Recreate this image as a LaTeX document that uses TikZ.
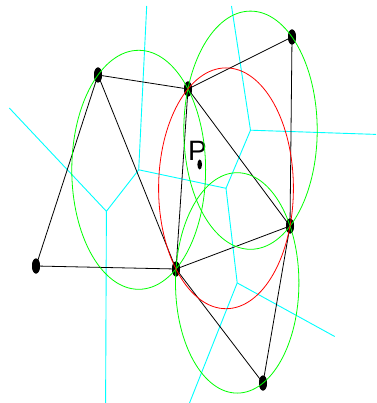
\documentclass[tikz,border=0pt]{standalone}
\usepackage{fontspec}
\setsansfont{Liberation Sans}
\usepackage{tikz}
\usetikzlibrary{shapes.geometric}
\definecolor{vorcyan}{RGB}{0,255,255}
\definecolor{circgreen}{RGB}{0,255,0}
\definecolor{circred}{RGB}{255,0,0}

\begin{document}
\begin{tikzpicture}[
  x=1pt, y=-1pt,
  site/.style={ellipse, fill=black, inner sep=0pt,
               minimum width=8pt, minimum height=15pt},
  query/.style={ellipse, fill=black, inner sep=0pt,
                minimum width=4.6pt, minimum height=10pt},
  vor/.style={draw=vorcyan, line width=0.9pt},
  tri/.style={draw=black, line width=0.8pt},
  circ/.style={draw=circgreen, line width=0.8pt},
  bad/.style={draw=circred, line width=0.8pt},
]
\useasboundingbox[fill=white] (0,0) rectangle (376,403);
% --- Voronoi vertices and ray ends ---
\coordinate (vabe) at (138.7,169.8);
\coordinate (vade) at (106.4,211.3);
\coordinate (vbcf) at (250.5,130.2);
\coordinate (vbef) at (226.0,188.3);
\coordinate (vefg) at (237.2,282.9);
\coordinate (rab) at (146.7,6);
\coordinate (rad) at (9.3,108);
\coordinate (rde) at (105.6,403);
\coordinate (rbc) at (231.5,6);
\coordinate (rcf) at (376,134.4);
\coordinate (reg) at (189.5,403);
\coordinate (rfg) at (334.7,336.5);
\draw[vor] (rab) -- (vabe) -- (vade) -- (rad);
\draw[vor] (vade) -- (rde);
\draw[vor] (vabe) -- (vbef) -- (vbcf) -- (rbc);
\draw[vor] (vbcf) -- (rcf);
\draw[vor] (vbef) -- (vefg) -- (reg);
\draw[vor] (vefg) -- (rfg);
% --- Sites ---
\node[site] (a) at (98,75)   {};
\node[site] (b) at (188,89)  {};
\node[site] (c) at (292,37)  {};
\node[site] (d) at (36,266)  {};
\node[site] (e) at (176,269) {};
\node[site] (f) at (290,226) {};
\node[site] (g) at (263,383) {};
% --- Delaunay edges ---
\foreach \u/\v in {a/b, a/d, a/e, b/c, b/e, b/f, c/f, d/e, e/f, e/g, f/g}
  { \draw[tri] (\u.center) -- (\v.center); }
\foreach \s in {a,...,g} { \node[site] at (\s) {}; }
% --- Query point ---
\node[query] (p) at (199.7,164.5) {};
\node[font=\sffamily\fontsize{28}{28}\selectfont, inner sep=0pt]
  (plabel) at (197.5,151) {P};
% --- Circumcircles ---
\draw[circ] (138.7,169.8) ellipse [x radius=66.9pt, y radius=119.5pt];
\draw[circ] (250.5,130.2) ellipse [x radius=66.7pt, y radius=119.1pt];
\draw[circ] (237.2,282.9) ellipse [x radius=61.7pt, y radius=110.2pt];
\draw[bad]  (226.0,188.3) ellipse [x radius=67.4pt, y radius=120.4pt];
\end{tikzpicture}
\end{document}
